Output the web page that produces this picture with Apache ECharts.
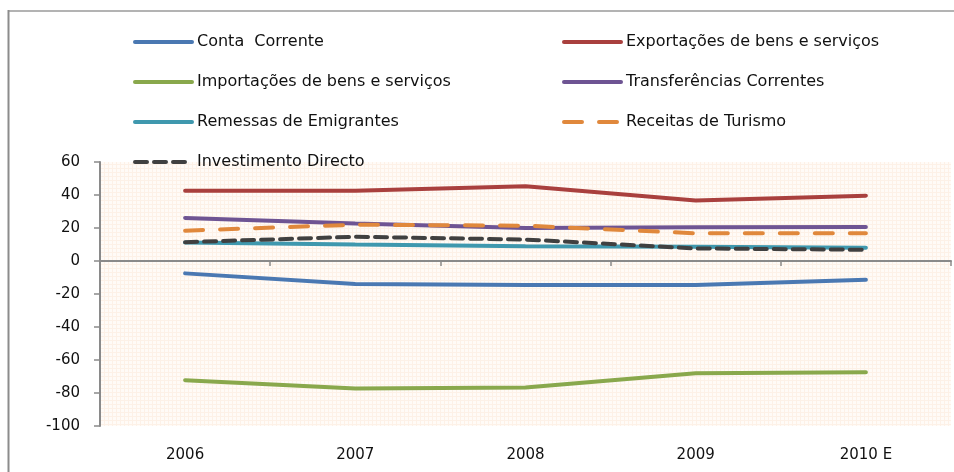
<!DOCTYPE html>
<html>
<head>
<meta charset="utf-8">
<script src="https://cdn.jsdelivr.net/npm/echarts@6/dist/echarts.min.js"></script>
<style>
html,body{margin:0;padding:0;background:#fff;}
#c{width:954px;height:472px;}
</style>
</head>
<body>
<div id="c"></div>
<script>
var categories = ['2006', '2007', '2008', '2009', '2010 E'];
var contaCorrente = [-7.5, -14, -14.6, -14.6, -11.4];
var exportacoes = [42.6, 42.6, 45.3, 36.6, 39.6];
var importacoes = [-72.2, -77.3, -76.6, -68, -67.4];
var transferencias = [26.1, 22.8, 20, 20.4, 20.6];
var remessas = [11.2, 10, 9, 8.6, 8];
var turismo = [18.4, 22, 21.4, 16.8, 16.8];
var investimento = [11.4, 14.7, 13, 7.6, 6.8];
var yTicks = { min: -100, max: 60, interval: 20 };

// faint peach grid pattern for plot background
var pat = document.createElement('canvas');
pat.width = 4; pat.height = 4;
var pc = pat.getContext('2d');
pc.fillStyle = '#fffbf7'; pc.fillRect(0, 0, 4, 4);
pc.fillStyle = '#fdf1e7'; pc.fillRect(0, 0, 4, 1); pc.fillRect(0, 0, 1, 4);

var FONT = 'DejaVu Sans';
var chart = echarts.init(document.getElementById('c'), null, { renderer: 'canvas' });

function line(name, data, color, type) {
  return {
    name: name, type: 'line', data: data, symbol: 'none', smooth: false,
    xAxisIndex: 0, yAxisIndex: 0,
    lineStyle: { color: color, width: 4, type: type || 'solid', cap: 'round' },
    itemStyle: { color: color },
    z: 3
  };
}

var legendCommon = {
  orient: 'vertical', top: 29, itemWidth: 57, itemHeight: 18, itemGap: 24,
  itemStyle: { opacity: 0 },
  lineStyle: { width: 4 },
  textStyle: { fontFamily: FONT, fontSize: 16, color: '#111' }
};

chart.setOption({
  animation: false,
  backgroundColor: '#ffffff',
  graphic: [
    { type: 'line', shape: { x1: 8, y1: 11, x2: 954, y2: 11 }, style: { stroke: '#b3b3b3', lineWidth: 2 } },
    { type: 'line', shape: { x1: 8.5, y1: 10, x2: 8.5, y2: 472 }, style: { stroke: '#8c8c8c', lineWidth: 2 } }
  ],
  legend: [
    Object.assign({}, legendCommon, {
      left: 128,
      data: ['Conta  Corrente', 'Importações de bens e serviços', 'Remessas de Emigrantes', 'Investimento Directo']
    }),
    Object.assign({}, legendCommon, {
      left: 557,
      data: ['Exportações de bens e serviços', 'Transferências Correntes', 'Receitas de Turismo']
    })
  ],
  grid: {
    left: 100, right: 3, top: 162, bottom: 46,
    show: true, borderWidth: 0,
    backgroundColor: { image: pat, repeat: 'repeat' }
  },
  xAxis: [
    {
      type: 'category', data: categories, position: 'top', boundaryGap: true,
      axisLine: { show: true, onZero: true, lineStyle: { color: '#8a8a8a', width: 2 } },
      axisTick: { show: true, inside: true, length: 5, lineStyle: { color: '#8a8a8a', width: 1.5 } },
      axisLabel: { show: false },
      splitLine: { show: false }
    },
    {
      type: 'category', data: categories, position: 'bottom', boundaryGap: true,
      axisLine: { show: false, onZero: false },
      axisTick: { show: false },
      axisLabel: { show: true, margin: 22, fontFamily: FONT, fontSize: 15, color: '#111' },
      splitLine: { show: false }
    }
  ],
  yAxis: {
    type: 'value', min: yTicks.min, max: yTicks.max, interval: yTicks.interval,
    axisLine: { show: true, lineStyle: { color: '#8a8a8a', width: 2 } },
    axisTick: { show: true, length: 6, lineStyle: { color: '#8a8a8a', width: 1.5 } },
    axisLabel: { margin: 20, fontFamily: FONT, fontSize: 15, color: '#111' },
    splitLine: { show: false }
  },
  series: [
    line('Conta  Corrente', contaCorrente, '#4a78b2'),
    line('Exportações de bens e serviços', exportacoes, '#a9403e'),
    line('Importações de bens e serviços', importacoes, '#89a84c'),
    line('Transferências Correntes', transferencias, '#6e5493'),
    line('Remessas de Emigrantes', remessas, '#3f98ae'),
    line('Receitas de Turismo', turismo, '#e0883c', [18, 17]),
    line('Investimento Directo', investimento, '#404040', [12, 7])
  ]
});
</script>
</body>
</html>
